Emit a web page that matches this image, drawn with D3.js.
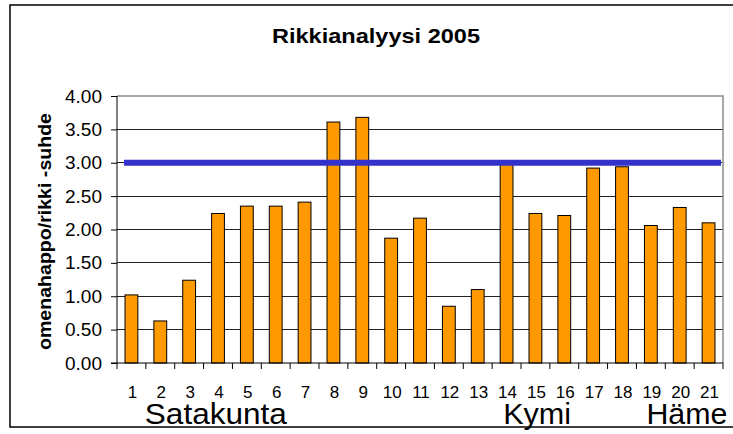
<!DOCTYPE html>
<html><head><meta charset="utf-8">
<script src="https://cdn.jsdelivr.net/npm/d3@7"></script>
<style>body{margin:0;background:#fff}svg{display:block;font-family:"Liberation Sans",Arial,sans-serif}</style>
</head><body>
<script>
const categories = ["1","2","3","4","5","6","7","8","9","10","11","12","13","14","15","16","17","18","19","20","21"];
const values = [1.02,0.63,1.24,2.24,2.35,2.35,2.41,3.61,3.68,1.87,2.17,0.85,1.10,2.99,2.24,2.21,2.92,2.94,2.06,2.33,2.10];
const yTicks = [0,0.5,1,1.5,2,2.5,3,3.5,4];
const threshold = 3.0;
const regions = ["Satakunta","Kymi","Häme"];
const regionAnchors = ["2","14","19"];
const title = "Rikkianalyysi 2005";
const yTitle = "omenahappo/rikki -suhde";

const W=733,H=434;
const m={left:117,right:723,top:96,bottom:363};
const svg=d3.select("body").append("svg").attr("width",W).attr("height",H);

// outer frame
svg.append("rect").attr("x",10).attr("y",5).attr("width",740).attr("height",422)
  .attr("fill","none").attr("stroke","#000").attr("stroke-width",1.5);

const x=d3.scaleBand().domain(categories).range([m.left,m.right]).padding(0);
const y=d3.scaleLinear().domain([0,4]).range([m.bottom,m.top]);

// gridlines
svg.append("g").selectAll("line").data(yTicks.filter(t=>t>0&&t<4)).join("line")
  .attr("x1",m.left).attr("x2",m.right).attr("y1",d=>y(d)).attr("y2",d=>y(d))
  .attr("stroke","#222").attr("stroke-width",1).attr("shape-rendering","crispEdges");
// plot area border top/right
svg.append("path").attr("d",`M${m.left},${y(4)}H${m.right}V${m.bottom}`)
  .attr("fill","none").attr("stroke","#8c8c8c").attr("stroke-width",1.5);

// bars
const bw=x.bandwidth()/2.25;
svg.append("g").selectAll("rect").data(values).join("rect")
  .attr("x",(d,i)=>x(categories[i])+x.bandwidth()/2-bw/2)
  .attr("y",d=>y(d)).attr("width",bw).attr("height",d=>y(0)-y(d))
  .attr("fill","#FF9900").attr("stroke","#000").attr("stroke-width",1);

// threshold line
svg.append("line").attr("x1",x(categories[0])+7).attr("x2",m.right-2)
  .attr("y1",y(threshold)).attr("y2",y(threshold))
  .attr("stroke","#3333CC").attr("stroke-width",6);

// y axis
const yAxis=d3.axisLeft(y).tickValues(yTicks).tickFormat(d3.format(".2f")).tickSize(6).tickPadding(9);
const gy=svg.append("g").attr("transform",`translate(${m.left},0)`).call(yAxis)
  .attr("font-family",null).attr("font-size",null);
gy.select(".domain").attr("stroke","#000").attr("d",`M0,${y(4)}V${y(0)}`);
gy.selectAll(".tick line").attr("stroke","#000");
gy.selectAll("text").attr("font-size",19).attr("fill","#000");

// x axis
const gx=svg.append("g").attr("transform",`translate(0,${m.bottom})`);
gx.append("line").attr("x1",m.left-6).attr("x2",m.right).attr("stroke","#000");
gx.selectAll("line.tk").data(categories.concat(["end"])).join("line").attr("class","tk")
  .attr("x1",(d,i)=>i<categories.length?x(d):m.right).attr("x2",(d,i)=>i<categories.length?x(d):m.right)
  .attr("y1",0).attr("y2",6).attr("stroke","#000");
gx.selectAll("text").data(categories).join("text")
  .attr("x",d=>x(d)+x.bandwidth()/2+1).attr("y",35).attr("text-anchor","middle")
  .attr("font-size",17).text(d=>d);

// region labels
const regionOffsets=[-1,11,10], regionLengths=[142,68,81];
svg.append("g").selectAll("text").data(regions).join("text")
  .attr("x",(d,i)=>x(regionAnchors[i])+regionOffsets[i]).attr("y",424).attr("font-size",30)
  .attr("textLength",(d,i)=>regionLengths[i]).attr("lengthAdjust","spacingAndGlyphs").text(d=>d);

// title
svg.append("text").attr("x",376).attr("y",43).attr("text-anchor","middle")
  .attr("font-size",21).attr("font-weight","bold")
  .attr("textLength",208).attr("lengthAdjust","spacingAndGlyphs").text(title);

// y title
svg.append("text").attr("transform",`translate(51,${(113+350)/2}) rotate(-90)`)
  .attr("text-anchor","middle").attr("font-size",19).attr("font-weight","bold")
  .attr("textLength",237).attr("lengthAdjust","spacingAndGlyphs").text(yTitle);
</script>
</body></html>
